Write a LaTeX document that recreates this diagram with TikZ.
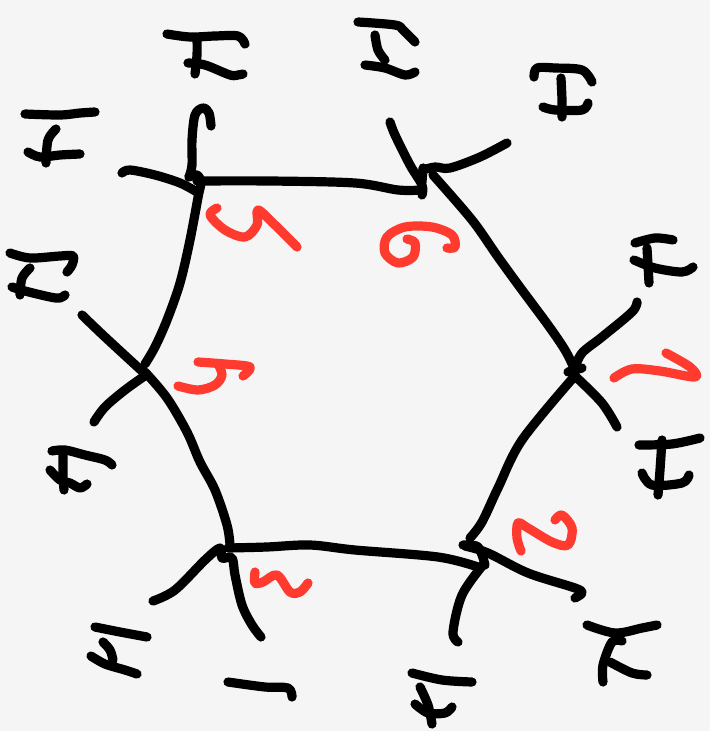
\documentclass[tikz,border=0pt]{standalone}
\definecolor{paper}{HTML}{F5F5F5}
\definecolor{redink}{HTML}{FF3B30}
\tikzset{
  blackstroke/.style={draw=black,line width=9.2pt,line cap=round,line join=round},
  redstroke/.style={draw=redink,line width=9.2pt,line cap=round,line join=round},
}
\newcommand{\inkk}[1]{\draw[blackstroke] plot[smooth,tension=.55] coordinates {#1};}
\newcommand{\inkr}[1]{\draw[redstroke] plot[smooth,tension=.55] coordinates {#1};}
\begin{document}
\begin{tikzpicture}[x=1pt,y=-1pt]
\fill[paper] (0,0) rectangle (710,731);
\useasboundingbox (0,0) rectangle (710,731);
% hexagon edges
\inkk{(197,181) (270,181) (355,183) (398,190) (421,190)}
\inkk{(433,175) (472,220) (498,257) (522,290) (548,325) (565,350) (574,368)}
\inkk{(573,378) (522,440) (498,488) (482,522) (470,538)}
\inkk{(228,548) (267,547) (310,545) (355,550) (438,557) (478,567)}
\inkk{(145,372) (167,398) (187,432) (200,462) (215,490) (227,525) (230,545)}
\inkk{(199,192) (190,240) (180,283) (167,320) (155,347) (145,364)}
% vertex 5 branches
\inkk{(211,126) (209,113) (203,108) (195,115) (192,140) (192,165) (189,177)}
\inkk{(122,173) (130,170) (155,175) (180,183) (197,192)}
\inkk{(189,177) (197,175) (201,182) (199,192)}
% vertex 6 branches
\inkk{(390,122) (395,135) (410,165) (422,185) (422,195)}
\inkk{(423,170) (435,167) (450,168) (480,157) (507,143)}
\inkk{(423,168) (422,182)}
% vertex 1 branches
\inkk{(637,302) (632,312) (602,337) (582,353) (575,368)}
\inkk{(575,376) (602,403) (617,427)}
\inkk{(568,372) (582,368)}
% vertex 2 branches
\inkk{(465,546) (488,553) (528,573) (575,588) (582,593) (575,598)}
\inkk{(483,565) (462,595) (453,632) (458,642)}
\inkk{(463,545) (478,547) (485,565)}
% vertex 3 branches
\inkk{(153,601) (175,590) (205,560) (220,548) (222,558) (232,558) (235,575) (242,605) (252,625) (261,637)}
% vertex 4 branches
\inkk{(82,315) (105,337) (143,372)}
\inkk{(94,422) (105,407) (125,390) (146,375)}
% outer glyphs, top
\inkk{(167,34) (190,37) (215,36) (238,36) (245,44)}
\inkk{(197,38) (197,55) (195,74)}
\inkk{(188,63) (205,65) (230,75) (238,75) (243,74)}
% left upper
\inkk{(25,114) (60,115) (80,113) (95,112)}
\inkk{(56,129) (48,140) (46,163)}
\inkk{(28,152) (40,157) (60,155) (80,154)}
% left middle
\inkk{(10,253) (30,258) (60,256) (73,256) (72,265) (67,272)}
\inkk{(30,268) (22,278) (20,295)}
\inkk{(12,287) (25,291) (50,297) (60,298) (65,295)}
% left lower
\inkk{(52,451) (65,450) (85,455) (105,460) (112,465)}
\inkk{(63,452) (63,475) (64,490)}
\inkk{(50,470) (60,480) (70,483) (80,488) (87,484)}
% bottom left
\inkk{(95,627) (120,632) (147,637)}
\inkk{(103,642) (110,650) (113,660)}
\inkk{(91,656) (105,664) (125,670) (137,674)}
\inkk{(228,682) (265,687) (288,688) (292,697)}
% bottom
\inkk{(412,673) (442,680) (472,682)}
\inkk{(420,687) (428,705) (432,724)}
\inkk{(415,704) (428,713) (445,713) (452,707)}
% bottom right
\inkk{(587,625) (615,633) (642,628) (657,625)}
\inkk{(622,641) (612,642) (603,665) (603,682)}
\inkk{(610,662) (632,673) (647,675)}
% right lower
\inkk{(639,445) (672,444) (700,438)}
\inkk{(662,440) (660,470) (658,495)}
\inkk{(642,473) (652,485) (682,483) (689,475)}
% right upper
\inkk{(635,243) (655,238) (673,240)}
\inkk{(647,248) (648,265) (649,283)}
\inkk{(634,260) (655,268) (682,272) (693,267)}
% top right
\inkk{(534,77) (537,68) (555,68) (582,70) (592,82)}
\inkk{(561,78) (562,100) (562,117)}
\inkk{(543,107) (555,110) (582,110) (588,103)}
% top centre
\inkk{(358,22) (395,25) (403,30) (415,42)}
\inkk{(375,35) (378,50) (385,60)}
\inkk{(365,65) (385,68) (405,75) (415,72)}
% red numerals
\inkr{(614,378) (632,369) (660,371) (695,377) (690,367) (666,353)}
\inkr{(521,551) (517,538) (518,523) (528,528) (552,542) (568,545) (572,528) (562,515) (555,520)}
\inkr{(255,572) (255,583) (263,582) (277,575) (290,592) (300,592) (308,583)}
\inkr{(198,362) (225,364) (250,367) (243,376)}
\inkr{(178,386) (198,390) (215,385) (222,375) (218,364)}
\inkr{(217,208) (210,215) (225,230) (245,237) (257,225) (258,210) (275,225) (297,247)}
\inkr{(447,248) (455,247) (452,235) (432,227) (405,227) (387,237) (385,253) (398,263) (413,257) (415,243) (407,239)}
\end{tikzpicture}
\end{document}
